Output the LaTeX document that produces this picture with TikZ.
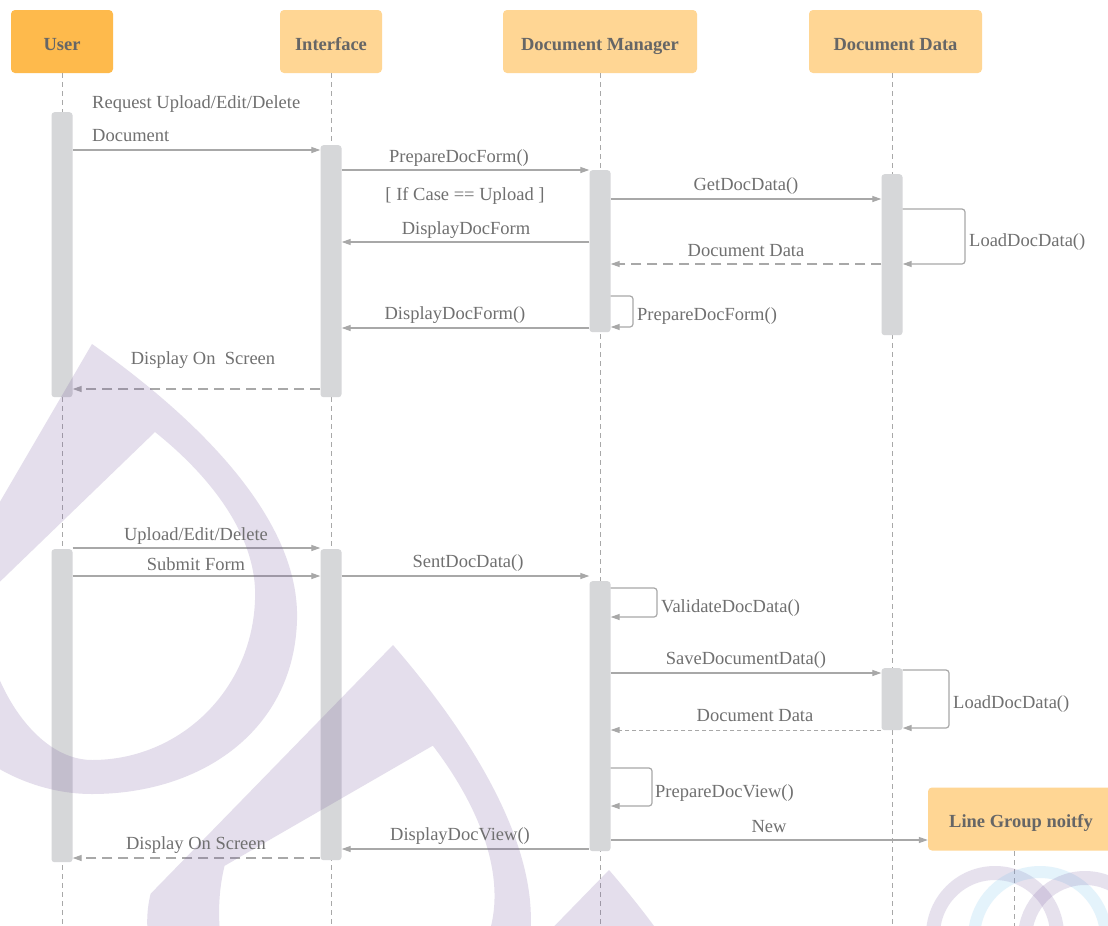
\documentclass[tikz,border=0pt]{standalone}
\usepackage{fontspec}
\setmainfont{Liberation Serif}
\usetikzlibrary{arrows.meta}

\definecolor{actorA}{RGB}{254,186,76}
\definecolor{actorB}{RGB}{255,214,148}
\definecolor{barfill}{RGB}{214,215,217}
\definecolor{wire}{RGB}{168,168,168}
\definecolor{ink}{RGB}{112,112,112}
\definecolor{headink}{RGB}{102,102,102}
\definecolor{wmark}{RGB}{120,90,160}
\definecolor{wmblue}{RGB}{110,190,235}

\tikzset{
  actor/.style={rectangle, rounded corners=4pt, minimum height=63pt, inner sep=0pt,
    text height=17pt, text depth=0pt,
    text=headink, font=\fontsize{18.5}{22}\selectfont\bfseries},
  actbar/.style={rectangle, rounded corners=3pt, fill=barfill, minimum width=21pt,
    inner sep=0pt, anchor=north},
  life/.style={wire, line width=0.8pt, dash pattern=on 5pt off 4pt},
  msg/.style={wire, line width=1.2pt, -{Triangle[length=9pt,width=6pt]}},
  reply/.style={msg, dash pattern=on 10pt off 6pt},
  finereply/.style={msg, line width=1pt, dash pattern=on 4pt off 3pt},
  selfmsg/.style={msg, rounded corners=3pt},
  lbl/.style={text=ink, font=\fontsize{18.5}{22}\selectfont, inner sep=0pt, yshift=-2pt},
  wmdrop/.pic={
    \fill[wmark, opacity=0.2, even odd rule]
      (0,0) .. controls (108,76) and (208,176) .. (205,276)
            .. controls (202,386) and (110,450) .. (0,450)
            .. controls (-90,450) and (-175,380) .. (-175,300) -- cycle
      (63,88) .. controls (123,136) and (166,196) .. (163,256)
            .. controls (160,346) and (88,416) .. (0,416)
            .. controls (-60,416) and (-110,330) .. (-110,255) -- cycle;
  },
}

\begin{document}
\begin{tikzpicture}[x=1pt, y=-1pt]
\useasboundingbox (0,0) rectangle (1108,926);
\fill[white] (0,0) rectangle (1108,926);

% participants
\node[actor, fill=actorA, minimum width=102pt] (user) at (62,41.5) {User};
\node[actor, fill=actorB, minimum width=102pt] (ui) at (331,41.5) {Interface};
\node[actor, fill=actorB, minimum width=194pt] (dm) at (600,41.5) {Document Manager};
\node[actor, fill=actorB, minimum width=173pt] (dd) at (895.5,41.5) {Document Data};
\node[actor, fill=actorB, minimum width=186pt] (lg) at (1021,819) {Line Group noitfy};

% lifelines
\coordinate (uEnd) at (62,926);
\coordinate (iEnd) at (331,926);
\coordinate (mEnd) at (600,926);
\coordinate (dTop) at (892,73);
\coordinate (dEnd) at (892,926);
\coordinate (lTop) at (1014,851);
\coordinate (lEnd) at (1014,926);
\draw[life] (user.south) -- (uEnd);
\draw[life] (ui.south) -- (iEnd);
\draw[life] (dm.south) -- (mEnd);
\draw[life] (dTop) -- (dEnd);
\draw[life] (lTop) -- (lEnd);

% activation bars
\node[actbar, minimum height=285pt] (u1) at (62,112) {};
\node[actbar, minimum height=252pt] (i1) at (331,145) {};
\node[actbar, minimum height=162pt] (m1) at (600,170) {};
\node[actbar, minimum height=161pt] (d1) at (892,174) {};
\node[actbar, minimum height=313pt] (u2) at (62,549) {};
\node[actbar, minimum height=311pt] (i2) at (331,549) {};
\node[actbar, minimum height=270pt] (m2) at (600,581) {};
\node[actbar, minimum height=62pt] (d2) at (892,668) {};

% first exchange: request the document form
\draw[msg] (u1.east |- 0,150) -- (i1.west |- 0,150);
\draw[msg] (i1.east |- 0,170) -- (m1.west |- 0,170);
\draw[msg] (m1.east |- 0,199) -- (d1.west |- 0,199);
\draw[selfmsg] (d1.east |- 0,209) -- (965,209) -- (965,264) -- (d1.east |- 0,264);
\draw[reply] (d1.west |- 0,264) -- (m1.east |- 0,264);
\draw[msg] (m1.west |- 0,242) -- (i1.east |- 0,242);
\draw[selfmsg] (m1.east |- 0,296) -- (633,296) -- (633,327) -- (m1.east |- 0,327);
\draw[msg] (m1.west |- 0,328) -- (i1.east |- 0,328);
\draw[reply] (i1.west |- 0,389) -- (u1.east |- 0,389);

% second exchange: submit the form
\draw[msg] (u2.east |- 0,548) -- (i2.west |- 0,548);
\draw[msg] (u2.east |- 0,576) -- (i2.west |- 0,576);
\draw[msg] (i2.east |- 0,576) -- (m2.west |- 0,576);
\draw[selfmsg] (m2.east |- 0,588) -- (657,588) -- (657,617) -- (m2.east |- 0,617);
\draw[msg] (m2.east |- 0,673) -- (d2.west |- 0,673);
\draw[selfmsg] (d2.east |- 0,670) -- (949,670) -- (949,728) -- (d2.east |- 0,728);
\draw[finereply] (d2.west |- 0,730) -- (m2.east |- 0,730);
\draw[selfmsg] (m2.east |- 0,768) -- (652,768) -- (652,806) -- (m2.east |- 0,806);
\draw[msg] (m2.east |- 0,840) -- (lg.west |- 0,840);
\draw[msg] (m2.west |- 0,849) -- (i2.east |- 0,849);
\draw[reply] (i2.west |- 0,858) -- (u2.east |- 0,858);

% background emblem
\begin{scope}
  \clip (0,0) rectangle (1108,926);
  \pic at (92,344) {wmdrop};
  \pic[rotate=-14] at (393,645) {wmdrop};
  \pic[rotate=-14] at (609,870) {wmdrop};
  \draw[wmark, opacity=0.18, line width=14pt] (995,935) circle[radius=62];
  \draw[wmblue, opacity=0.18, line width=12pt] (1040,938) circle[radius=66];
  \draw[wmark, opacity=0.18, line width=14pt] (1085,938) circle[radius=60];
\end{scope}

% message labels
\node[lbl, anchor=west] (t1a) at (92,102) {Request Upload/Edit/Delete};
\node[lbl, anchor=west] (t1b) at (92,134) {Document};
\node[lbl] (t2) at (459,156) {PrepareDocForm()};
\node[lbl] (t3) at (465,194) {[ If Case == Upload ]};
\node[lbl] (t4) at (746,184) {GetDocData()};
\node[lbl] (t5) at (466,228) {DisplayDocForm};
\node[lbl] (t6) at (746,249) {Document Data};
\node[lbl, anchor=west] (t7) at (969,240) {LoadDocData()};
\node[lbl] (t8) at (455,313) {DisplayDocForm()};
\node[lbl, anchor=west] (t9) at (637,314) {PrepareDocForm()};
\node[lbl] (t10) at (203,358) {Display On~\ Screen};

\node[lbl] (t11) at (196,534) {Upload/Edit/Delete};
\node[lbl] (t12) at (196,562) {Submit Form};
\node[lbl] (t13) at (468,561) {SentDocData()};
\node[lbl, anchor=west] (t14) at (661,606) {ValidateDocData()};
\node[lbl] (t15) at (746,658) {SaveDocumentData()};
\node[lbl, anchor=west] (t16) at (953,702) {LoadDocData()};
\node[lbl] (t17) at (755,714) {Document Data};
\node[lbl, anchor=west] (t18) at (655,791) {PrepareDocView()};
\node[lbl] (t19) at (769,825) {New};
\node[lbl] (t20) at (460,834) {DisplayDocView()};
\node[lbl] (t21) at (196,843) {Display On Screen};
\end{tikzpicture}
\end{document}
